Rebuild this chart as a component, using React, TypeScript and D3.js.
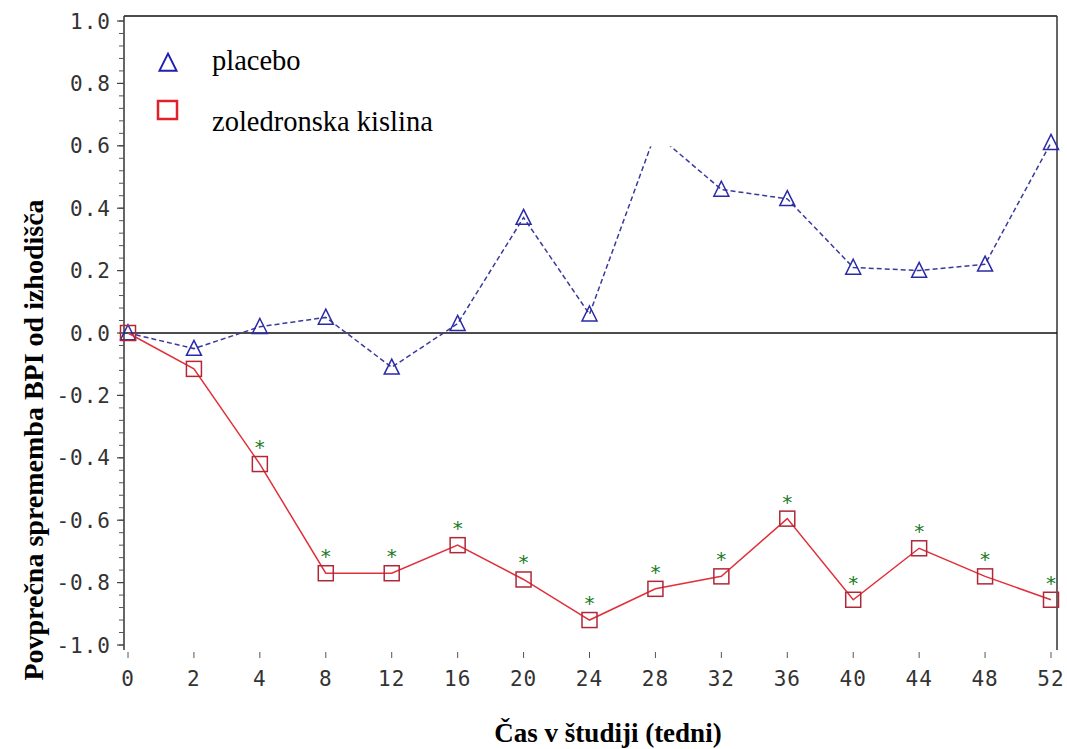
import React from 'react'
import * as d3 from 'd3'

// weeks in study (categorical axis)
const weeks = ['0', '2', '4', '8', '12', '16', '20', '24', '28', '32', '36', '40', '44', '48', '52']
const placebo = [0, -0.05, 0.02, 0.05, -0.11, 0.03, 0.37, 0.06, 0.64, 0.46, 0.43, 0.21, 0.2, 0.22, 0.61]
const zoledronic = [0, -0.115, -0.42, -0.77, -0.77, -0.68, -0.79, -0.92, -0.82, -0.78, -0.595, -0.855, -0.69, -0.78, -0.855]
// weeks marked with a significance star
const starred = ['4', '8', '12', '16', '20', '24', '28', '32', '36', '40', '44', '48', '52']
const yMajor = [1.0, 0.8, 0.6, 0.4, 0.2, 0.0, -0.2, -0.4, -0.6, -0.8, -1.0]
const yMinor = d3.range(-1.0, 1.0001, 0.04)

const W = 1067
const H = 749
const axisX = 124
const frameRight = 1057
const frameTop = 16
const frameBottom = 650

export default function App() {
  var x = d3.scalePoint<string>().domain(weeks).range([128, 1051])
  var y = d3.scaleLinear().domain([-1, 1]).range([645, 21])

  var line = d3.line<number>()
    .x((d, i) => x(weeks[i]) as number)
    .y(d => y(d))

  var tickFont = '"DejaVu Sans Mono", monospace'
  var serif = '"Liberation Serif", "Times New Roman", serif'

  var tri = (cx: number, cy: number, s: number) =>
    `M${cx},${cy - s * 0.55}L${cx + s / 2},${cy + s * 0.45}L${cx - s / 2},${cy + s * 0.45}Z`

  return (
    <svg width={W} height={H} style={{ position: 'absolute', left: 0, top: 0, background: '#fff' }}>
      {/* frame: top, right and left axis */}
      <line x1={axisX} x2={frameRight} y1={frameTop} y2={frameTop} stroke="#111" strokeWidth={1.5} />
      <line x1={frameRight} x2={frameRight} y1={frameTop} y2={frameBottom} stroke="#333" strokeWidth={1.5} />
      <line x1={axisX} x2={axisX} y1={frameTop} y2={frameBottom} stroke="#333" strokeWidth={1.5} />

      {/* y ticks */}
      {yMinor.map((v, i) => (
        <line key={'mn' + i} x1={axisX - 5} x2={axisX} y1={y(v)} y2={y(v)} stroke="#555" strokeWidth={1} />
      ))}
      {yMajor.map(v => (
        <g key={'mj' + v}>
          <line x1={axisX - 7} x2={axisX} y1={y(v)} y2={y(v)} stroke="#444" strokeWidth={1.2} />
          <text x={111} y={y(v)} dy="0.36em" textAnchor="end" fontFamily={tickFont} fontSize={21}
            fill="#333" letterSpacing={1}>
            {v.toFixed(1)}
          </text>
        </g>
      ))}

      {/* x ticks */}
      {weeks.map(w => (
        <g key={'x' + w}>
          <line x1={x(w)} x2={x(w)} y1={652} y2={658} stroke="#555" strokeWidth={1} />
          <text x={x(w)} y={686} textAnchor="middle" fontFamily={tickFont} fontSize={21} fill="#333"
            letterSpacing={1}>
            {w}
          </text>
        </g>
      ))}

      {/* zero reference */}
      <line x1={axisX} x2={frameRight} y1={y(0)} y2={y(0)} stroke="#111" strokeWidth={1.5} />

      {/* placebo */}
      <path d={line(placebo) as string} fill="none" stroke="#3a3a9a" strokeWidth={1.5} strokeDasharray="5,3" />
      {placebo.map((v, i) => weeks[i] === '28' ? null : (
        <path key={'p' + i} d={tri(x(weeks[i]) as number, y(v), 15)} fill="none" stroke="#2a2aa8" strokeWidth={1.5} />
      ))}
      {/* the week-28 placebo point is blanked out in the original */}
      <rect x={(x('28') as number) - 7} y={frameTop + 2} width={26} height={y(0.598) - frameTop - 2} fill="#fff" />

      {/* zoledronic acid */}
      <path d={line(zoledronic) as string} fill="none" stroke="#e0303a" strokeWidth={1.5} />
      {zoledronic.map((v, i) => (
        <rect key={'z' + i} x={(x(weeks[i]) as number) - 7.5} y={y(v) - 7.5} width={15} height={15}
          fill="none" stroke="#b02838" strokeWidth={1.5} />
      ))}
      {zoledronic.map((v, i) => starred.includes(weeks[i]) ? (
        <text key={'s' + i} x={x(weeks[i])} y={y(v) - 10} textAnchor="middle" fontFamily='"DejaVu Sans", sans-serif'
          fontSize={20} fill="#1a7a26">*</text>
      ) : null)}

      {/* legend */}
      <path d={tri(168, 63, 17)} fill="none" stroke="#2020b0" strokeWidth={2} />
      <text x={212} y={70} fontFamily={serif} fontSize={28.5} fill="#000">placebo</text>
      <rect x={158} y={101} width={19} height={18} fill="none" stroke="#e0202a" strokeWidth={2.5} />
      <text x={212} y={131} fontFamily={serif} fontSize={28.5} fill="#000">zoledronska kislina</text>

      {/* axis titles */}
      <text transform={`translate(43,${440}) rotate(-90)`} textAnchor="middle" fontFamily={serif}
        fontWeight="bold" fontSize={28} fill="#000">
        Povprečna sprememba BPI od izhodišča
      </text>
      <text x={608} y={742} textAnchor="middle" fontFamily={serif} fontWeight="bold" fontSize={27} fill="#000">
        Čas v študiji (tedni)
      </text>
    </svg>
  )
}
